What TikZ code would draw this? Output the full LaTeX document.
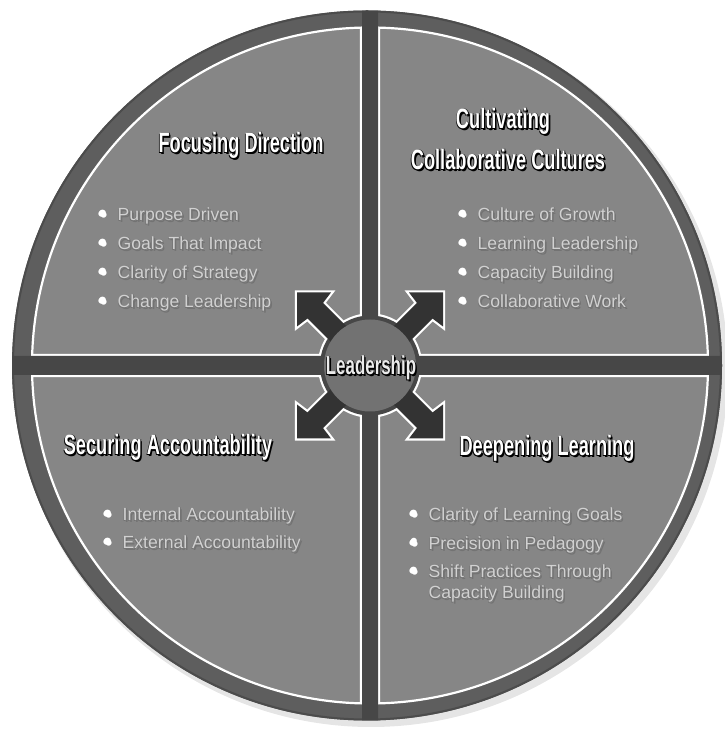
\documentclass[tikz,border=0pt]{standalone}
\usepackage{fontspec}
\setmainfont{Liberation Sans}
\newfontfamily\titlefont[FakeStretch=0.65]{Liberation Sans}
\definecolor{ringgray}{HTML}{5E5E5E}
\definecolor{quadgray}{HTML}{868686}
\definecolor{channelgray}{HTML}{474747}
\definecolor{arrowgray}{HTML}{333333}
\definecolor{hubgray}{HTML}{727272}
% text with a dark drop shadow
\newcommand{\shadowed}[2][black]{\leavevmode
  \rlap{\textcolor{#1}{\kern1.6pt\raisebox{-1.6pt}{#2}}}%
  \rlap{\textcolor{#1}{\kern0.7pt\raisebox{0.7pt}{#2}}}%
  \rlap{\textcolor{#1}{\kern-0.7pt\raisebox{-0.7pt}{#2}}}#2}
\newcommand{\bitem}[1]{\makebox[31pt][c]{\shadowed[black!70]{\textcolor{white}{\scalebox{1.25}{•}}}}\shadowed[black!55]{#1}}

\begin{document}
\begin{tikzpicture}[x=1pt, y=1pt, every node/.style={inner sep=0pt},
  title/.style={font=\titlefont\bfseries\fontsize{28}{32}\selectfont, text=white, anchor=base},
  item/.style={font=\fontsize{17.6}{21}\selectfont, text=black!18, anchor=base west}]
\useasboundingbox (0,0) rectangle (724,742);

% disc and ring
\fill[black!10] (371,372) circle (357);
\fill[ringgray] (367,376.5) circle (355);
\draw[black!70, line width=2pt] (367,376.5) circle (354);
\filldraw[fill=quadgray, draw=white, line width=2.2pt] (370,376.5) circle (338);

% white rims round the channels and arrows
\begin{scope}[shift={(370,376.5)}]
\clip (0,0) circle (338);
\draw[white, line width=4.4pt] (-8,-360) rectangle (8,360) (-360,-9.5) rectangle (360,9.5) (0,0) circle (50);
\foreach \sx/\sy in {1/1,-1/1,1/-1,-1/-1}
  \draw[white, line width=4.4pt, xscale=\sx, yscale=\sy]
    (-73,73) -- (-39,73) -- (-47,62.5) -- (-20,35.5) -- (-35.5,20) -- (-62.5,47) -- (-73,39) -- cycle;
\end{scope}

% channels, arrows and hub
\begin{scope}[shift={(370,376.5)}]
\clip (-3,0) circle (355);
\fill[channelgray] (-8,-360) rectangle (8,360) (-360,-9.5) rectangle (360,9.5);
\fill[channelgray] (0,0) circle (50);
\foreach \sx/\sy in {1/1,-1/1,1/-1,-1/-1}
  \fill[arrowgray, xscale=\sx, yscale=\sy]
    (-73,73) -- (-39,73) -- (-47,62.5) -- (-20,35.5) -- (-35.5,20) -- (-62.5,47) -- (-73,39) -- cycle;
\fill[hubgray] (0,0) circle (46);
\end{scope}
\node[title, font=\titlefont\bfseries\fontsize{26}{28}\selectfont, text=black!8] (lead) at (371,367) {\shadowed{Leadership}};

% Focusing Direction
\node[title] (fdtitle) at (241,589) {\shadowed{Focusing Direction}};
\foreach \txt [count=\i] in {Purpose Driven, Goals That Impact, Clarity of Strategy, Change Leadership}
  \node[item] (fd\i) at (86.5,550-29*\i) {\bitem{\txt}};

% Cultivating Collaborative Cultures
\node[title] (cctitle) at (503,613) {\shadowed{Cultivating}};
\node[title] (cctitleb) at (508,572) {\shadowed{Collaborative Cultures}};
\foreach \txt [count=\i] in {Culture of Growth, Learning Leadership, Capacity Building, Collaborative Work}
  \node[item] (cc\i) at (446.5,550-29*\i) {\bitem{\txt}};

% Securing Accountability
\node[title] (satitle) at (168,287) {\shadowed{Securing Accountability}};
\node[item] (sa1) at (91.5,221) {\bitem{Internal Accountability}};
\node[item] (sa2) at (91.5,193) {\bitem{External Accountability}};

% Deepening Learning
\node[title] (dltitle) at (547,286) {\shadowed{Deepening Learning}};
\node[item] (dl1) at (397.5,221) {\bitem{Clarity of Learning Goals}};
\node[item] (dl2) at (397.5,192.5) {\bitem{Precision in Pedagogy}};
\node[item] (dl3) at (397.5,164) {\bitem{Shift Practices Through}};
\node[item] (dl3b) at (428.5,143) {\shadowed[black!55]{Capacity Building}};
\end{tikzpicture}
\end{document}
